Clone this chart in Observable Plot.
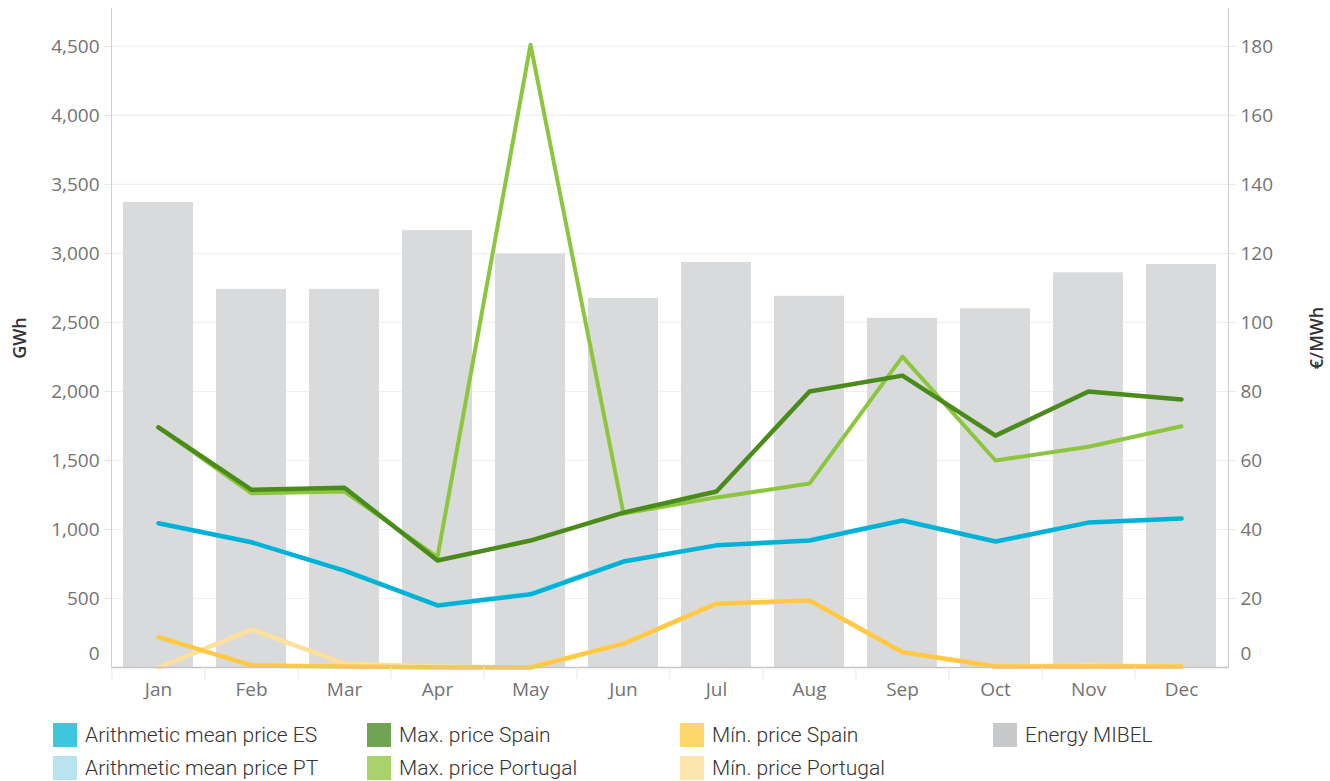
<!DOCTYPE html>
<html>
<head>
<meta charset="utf-8">
<script src="https://cdn.jsdelivr.net/npm/d3@7"></script>
<script src="https://cdn.jsdelivr.net/npm/@observablehq/plot@0.6"></script>
<style>
  html, body { margin: 0; padding: 0; background: #fff; }
  #wrap { position: relative; width: 1330px; height: 781px; overflow: hidden; }
  #legend { position: absolute; left: 0; top: 0; width: 1330px; height: 781px; pointer-events: none; }
  .li { position: absolute; display: flex; align-items: center; font-family: Roboto, "Noto Sans", sans-serif; font-size: 21px; font-weight: 300; color: #333; white-space: nowrap; }
  .sw { width: 24px; height: 24px; margin-right: 8px; flex: none; }
</style>
</head>
<body>
<div id="wrap">
  <div id="chart"></div>
  <div id="legend"></div>
</div>
<script>
const months = ["Jan","Feb","Mar","Apr","May","Jun","Jul","Aug","Sep","Oct","Nov","Dec"];
const energyMIBEL = [3370, 2740, 2740, 3165, 2995, 2675, 2935, 2690, 2530, 2600, 2860, 2920];
const meanES = [41.8, 36.3, 28.1, 18.0, 21.2, 30.7, 35.4, 36.8, 42.6, 36.5, 42.0, 43.2];
const meanPT = [41.8, 36.3, 28.1, 18.0, 21.6, 30.8, 35.4, 37.1, 42.6, 36.5, 42.0, 43.2];
const maxES  = [69.6, 51.5, 52.1, 31.0, 36.8, 44.9, 51.0, 80.0, 84.6, 67.2, 80.0, 77.7];
const maxPT  = [69.6, 50.5, 51.0, 32.0, 180.5, 44.6, 49.3, 53.3, 90.1, 60.0, 64.0, 69.9];
const minES  = [8.8, 0.6, 0.3, 0, 0, 6.9, 18.5, 19.4, 4.4, 0.3, 0.3, 0.3];
const minPT  = [0, 11.0, 1.1, 0.3, 0, 6.9, 18.5, 19.4, 4.4, 0.3, 0.6, 0.3];
const gwhTicks = [0, 500, 1000, 1500, 2000, 2500, 3000, 3500, 4000, 4500];
const priceTicks = [0, 20, 40, 60, 80, 100, 120, 140, 160, 180];
const ratio = 25; // GWh per €/MWh on the shared scale

const series = [
  {name: "Arithmetic mean price PT", values: meanPT, stroke: "#b8e2ee", width: 4.5},
  {name: "Arithmetic mean price ES", values: meanES, stroke: "#00b2d5", width: 4.5},
  {name: "Max. price Portugal", values: maxPT, stroke: "#8cc63f", width: 4},
  {name: "Max. price Spain", values: maxES, stroke: "#4a8b1b", width: 4.5},
  {name: "Mín. price Portugal", values: minPT, stroke: "#fde09a", width: 4.5},
  {name: "Mín. price Spain", values: minES, stroke: "#ffc845", width: 4.5}
];
const legendItems = [
  {name: "Arithmetic mean price ES", color: "#3ec6df"},
  {name: "Max. price Spain", color: "#70a352"},
  {name: "Mín. price Spain", color: "#fdd76c"},
  {name: "Energy MIBEL", color: "#c7c8ca"},
  {name: "Arithmetic mean price PT", color: "#b9e3ee"},
  {name: "Max. price Portugal", color: "#a9d26c"},
  {name: "Mín. price Portugal", color: "#fbe6b0"}
];

const energyData = months.map((m, i) => ({month: m, value: energyMIBEL[i]}));
const lineData = series.flatMap(s => months.map((m, i) => ({month: m, v: s.values[i] * ratio, name: s.name})));

const W = 1330, mL = 111, mR = 102, mT = 8, mB = 38;
const step = (W - mL - mR) / months.length;
const font = "'Open Sans', sans-serif";
const tickFill = "#737373";

const marks = [
  Plot.ruleY(gwhTicks.slice(1), {stroke: "#efefef", strokeWidth: 1.2}),
  Plot.barY(energyData, {x: "month", y: "value", fill: "#d9dadc"}),
  ...series.map(s => Plot.line(lineData.filter(d => d.name === s.name), {x: "month", y: "v", stroke: s.stroke, strokeWidth: s.width, strokeLinejoin: "round", strokeLinecap: "round"})),
  Plot.frame({anchor: "left", stroke: "#cfcfcf"}),
  Plot.frame({anchor: "right", stroke: "#cfcfcf"}),
  Plot.ruleY([0], {stroke: "#c6c6c6", strokeWidth: 1.5}),
  Plot.axisY(gwhTicks.slice(1), {anchor: "left", tickSize: 7, tickPadding: 5, stroke: "#e6e6e6", fill: tickFill, fontSize: 19, tickFormat: d3.format(","), label: null}),
  Plot.axisY([0], {anchor: "left", tickSize: 0, tickPadding: 12, dy: -14, fill: tickFill, fontSize: 19, tickFormat: d => String(d), label: null}),
  Plot.axisY(gwhTicks.slice(1), {anchor: "right", tickSize: 7, tickPadding: 5, stroke: "#e6e6e6", fill: tickFill, fontSize: 19, tickFormat: d => String(d / ratio), label: null}),
  Plot.axisY([0], {anchor: "right", tickSize: 0, tickPadding: 12, dy: -14, fill: tickFill, fontSize: 19, tickFormat: d => String(d / ratio), label: null}),
  Plot.axisX(months, {anchor: "bottom", tickSize: 0, tickPadding: 15, fill: tickFill, fontSize: 19, label: null}),
  Plot.axisX(months, {anchor: "bottom", tickSize: 12, dx: -step / 2, stroke: "#e6e6e6", tickFormat: () => "", label: null}),
  Plot.text(["GWh"], {frameAnchor: "left", dx: -91, rotate: -90, textAnchor: "middle", text: d => d, fontSize: 18, fontWeight: 600, fill: "#333"}),
  Plot.text(["€/MWh"], {frameAnchor: "right", dx: 89, rotate: -90, textAnchor: "middle", text: d => d, fontSize: 18, fontWeight: 600, fill: "#333"})
];

const chart = Plot.plot({
  width: W,
  height: 705,
  marginLeft: mL,
  marginRight: mR,
  marginTop: mT,
  marginBottom: mB,
  style: {fontFamily: font, background: "#fff", overflow: "visible"},
  x: {type: "band", domain: months, paddingInner: 0.25, paddingOuter: 0.125, axis: null},
  y: {domain: [0, 4775], axis: null},
  marks
});
document.getElementById("chart").appendChild(chart);

const legend = document.getElementById("legend");
const colX = [53, 367, 680, 993];
const rowY = [723, 756];
legendItems.forEach((it, i) => {
  const row = i < 4 ? 0 : 1;
  const col = i < 4 ? i : i - 4;
  const el = document.createElement("div");
  el.className = "li";
  el.style.left = colX[col] + "px";
  el.style.top = rowY[row] + "px";
  el.innerHTML = `<span class="sw" style="background:${it.color}"></span><span>${it.name}</span>`;
  legend.appendChild(el);
});
</script>
</body>
</html>
